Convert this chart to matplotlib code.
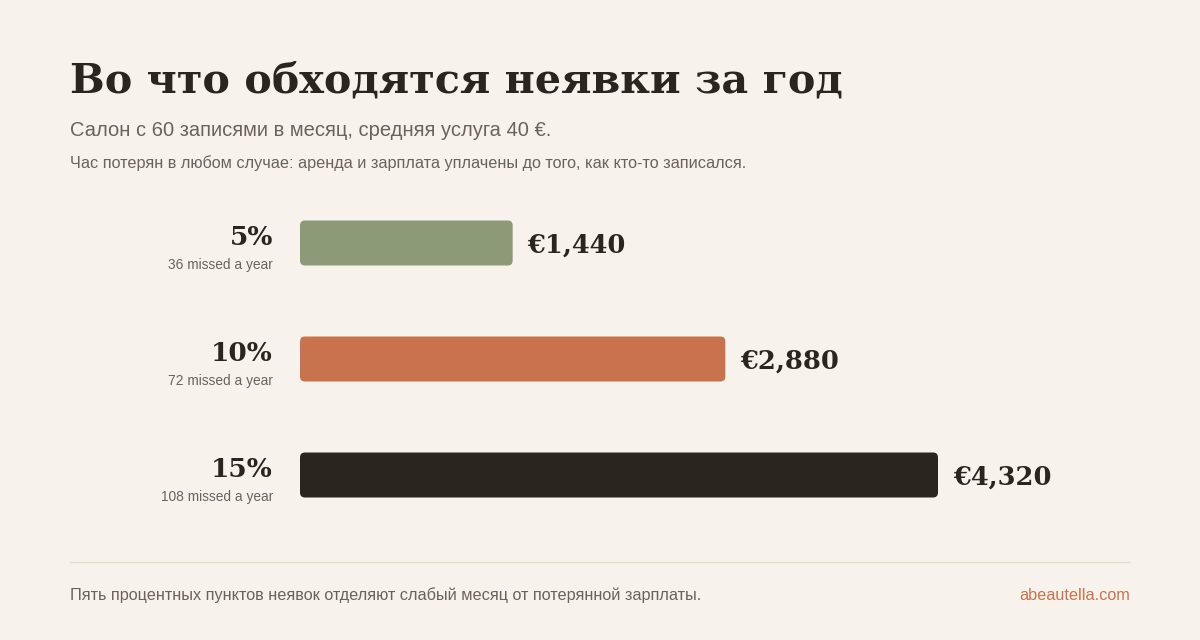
import matplotlib.pyplot as plt
from matplotlib.patches import FancyBboxPatch

plt.rcParams['font.family'] = ['Liberation Sans', 'DejaVu Sans']

rates = ["5%", "10%", "15%"]
missed = ["36 missed a year", "72 missed a year", "108 missed a year"]
costs = [1440, 2880, 4320]
colors = ["#8c9a78", "#c8734d", "#2b2520"]

BG = "#f7f2ec"
INK = "#2b2520"
GREY = "#6b635b"

W, H = 1200, 640
fig = plt.figure(figsize=(12, 6.4), dpi=100, facecolor=BG)

def fx(px):
    return px / W

def fy(py):
    return 1 - py / H

fig.text(fx(70), fy(81), "Во что обходятся неявки за год", family="DejaVu Serif",
         weight="bold", fontsize=29.7, color=INK, va="center")
fig.text(fx(70), fy(130), "Салон с 60 записями в месяц, средняя услуга 40 €.",
         fontsize=14.5, color=GREY, va="center")
fig.text(fx(70), fy(163), "Час потерян в любом случае: аренда и зарплата уплачены до того, как кто-то записался.",
         fontsize=11.7, color=GREY, va="center")

# bar axes: 0..max maps onto 300..938 px
ax = fig.add_axes([fx(300), fy(533), fx(638), 348 / H])
ax.set_facecolor("none")
ax.set_xlim(0, max(costs))
ax.set_ylim(len(costs) - 0.5, -0.5)
ax.axis("off")

px_per_x = 638 / max(costs)
px_per_y = 116
bh = 45 / 116
r = 5 / px_per_x
for i, (c, col) in enumerate(zip(costs, colors)):
    ax.add_patch(FancyBboxPatch((0, i - bh / 2), c, bh,
                                boxstyle=f"round,pad=0,rounding_size={r}",
                                mutation_aspect=px_per_x / px_per_y,
                                facecolor=col, edgecolor="none"))
    ax.text(c + 15 / px_per_x, i + 0.02, f"€{c:,}", family="DejaVu Serif",
            weight="bold", fontsize=18.5, color=INK, va="center", ha="left")
    ax.text(-27 / px_per_x, i - 0.05, rates[i], family="DejaVu Serif",
            weight="bold", fontsize=19, color=INK, va="center", ha="right")
    ax.text(-27 / px_per_x, i + 0.19, missed[i], fontsize=9.9, color=GREY,
            va="center", ha="right")

fig.add_artist(plt.Line2D([fx(70), fx(1130)], [fy(562), fy(562)], color="#e6ddd2", lw=1))
fig.text(fx(70), fy(595), "Пять процентных пунктов неявок отделяют слабый месяц от потерянной зарплаты.",
         fontsize=11.7, color=GREY, va="center")
fig.text(fx(1130), fy(595), "abeautella.com", fontsize=11.7, color="#c8734d",
         va="center", ha="right")

fig.savefig("out.png", facecolor=BG)
